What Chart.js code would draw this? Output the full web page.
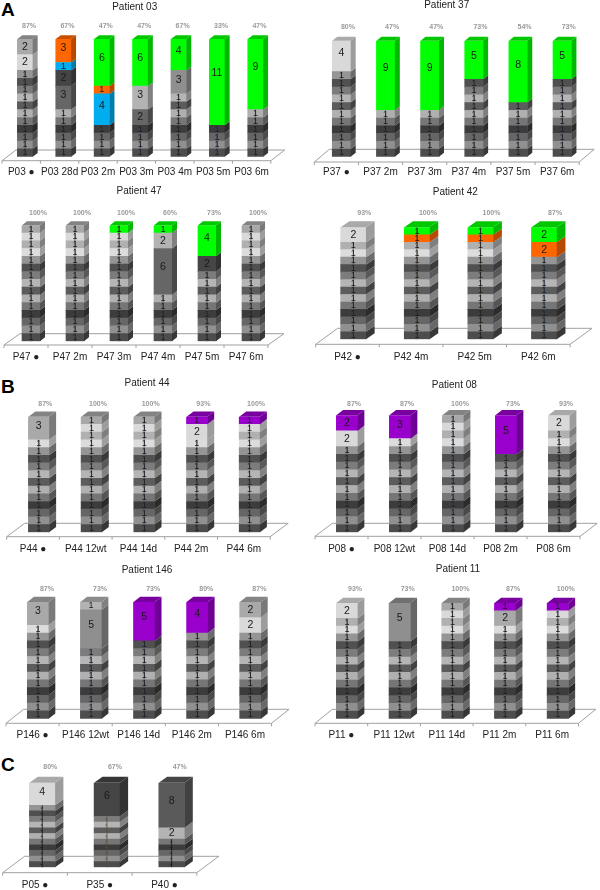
<!DOCTYPE html>
<html>
<head>
<meta charset="utf-8">
<title>Patient clones</title>
<script src="https://cdn.jsdelivr.net/npm/chart.js@4"></script>
<style>
body { margin: 0; background: #fff; width: 600px; height: 890px; position: relative; overflow: hidden; }
canvas { position: absolute; filter: blur(0.35px); }
.tag { position: absolute; font: bold 19px "Liberation Sans", Arial, sans-serif; color: #000; line-height: 19px; }
</style>
</head>
<body>
<div class="tag" style="left:1px;top:0px">A</div>
<div class="tag" style="left:1px;top:377px">B</div>
<div class="tag" style="left:1px;top:755px">C</div>
<script>
// values go bottom to top, clones name the last segments of each bar
var p03Labels = ['P03 ●', 'P03 28d', 'P03 2m', 'P03 3m', 'P03 4m', 'P03 5m', 'P03 6m'];
var p03Percent = ['87%', '67%', '47%', '47%', '67%', '33%', '47%'];
var p03Values = [
    [1,1,1,1,1,1,1,1,1,1,1,2,2],
    [1,1,1,1,1,1,3,2,1,3],
    [1,1,1,1,4,1,6],
    [1,1,1,1,2,3,6],
    [1,1,1,1,1,1,1,1,3,4],
    [1,1,1,1,11],
    [1,1,1,1,1,1,9]
];
var p03Clones = [['pale','silver'], ['slate','coal','blue','orange'], ['blue','orange','green'], ['slate','light','green'], ['mid','green'], ['green'], ['green']];

var p37Labels = ['P37 ●', 'P37 2m', 'P37 3m', 'P37 4m', 'P37 5m', 'P37 6m'];
var p37Percent = ['80%', '47%', '47%', '73%', '54%', '73%'];
var p37Values = [
    [1,1,1,1,1,1,1,1,1,1,1,4],
    [1,1,1,1,1,1,9],
    [1,1,1,1,1,1,9],
    [1,1,1,1,1,1,1,1,1,1,5],
    [1,1,1,1,1,1,1,8],
    [1,1,1,1,1,1,1,1,1,1,5]
];
var p37Clones = [['pale'], ['green'], ['green'], ['green'], ['green'], ['green']];

var p47Labels = ['P47 ●', 'P47 2m', 'P47 3m', 'P47 4m', 'P47 5m', 'P47 6m'];
var p47Percent = ['100%', '100%', '100%', '60%', '73%', '100%'];
var p47Values = [
    [1,1,1,1,1,1,1,1,1,1,1,1,1,1,1],
    [1,1,1,1,1,1,1,1,1,1,1,1,1,1,1],
    [1,1,1,1,1,1,1,1,1,1,1,1,1,1,1],
    [1,1,1,1,1,1,6,2,1],
    [1,1,1,1,1,1,1,1,1,2,4],
    [1,1,1,1,1,1,1,1,1,1,1,1,1,1,1]
];
var p47Clones = [[], [], ['green'], ['slate','light','green'], ['coal','green'], []];

var p42Labels = ['P42 ●', 'P42 4m', 'P42 5m', 'P42 6m'];
var p42Percent = ['93%', '100%', '100%', '87%'];
var p42Values = [
    [1,1,1,1,1,1,1,1,1,1,1,1,1,2],
    [1,1,1,1,1,1,1,1,1,1,1,1,1,1,1],
    [1,1,1,1,1,1,1,1,1,1,1,1,1,1,1],
    [1,1,1,1,1,1,1,1,1,1,1,2,2]
];
var p42Clones = [['pale'], ['orange','green'], ['orange','green'], ['orange','green']];

var p44Labels = ['P44 ●', 'P44 12wt', 'P44 14d', 'P44 2m', 'P44 6m'];
var p44Percent = ['87%', '100%', '100%', '93%', '100%'];
var p44Values = [
    [1,1,1,1,1,1,1,1,1,1,1,1,3],
    [1,1,1,1,1,1,1,1,1,1,1,1,1,1,1],
    [1,1,1,1,1,1,1,1,1,1,1,1,1,1,1],
    [1,1,1,1,1,1,1,1,1,1,1,1,2,1],
    [1,1,1,1,1,1,1,1,1,1,1,1,1,1,1]
];
var p44Clones = [['silver'], [], [], ['pale','purple'], ['purple']];

var p08Labels = ['P08 ●', 'P08 12wt', 'P08 14d', 'P08 2m', 'P08 6m'];
var p08Percent = ['87%', '87%', '100%', '73%', '93%'];
var p08Values = [
    [1,1,1,1,1,1,1,1,1,1,1,2,2],
    [1,1,1,1,1,1,1,1,1,1,1,1,3],
    [1,1,1,1,1,1,1,1,1,1,1,1,1,1,1],
    [1,1,1,1,1,1,1,1,1,1,5],
    [1,1,1,1,1,1,1,1,1,1,1,1,1,2]
];
var p08Clones = [['pale','purple'], ['purple'], [], ['purple'], ['pale']];

var p146Labels = ['P146 ●', 'P146 12wt', 'P146 14d', 'P146 2m', 'P146 6m'];
var p146Percent = ['87%', '73%', '73%', '80%', '87%'];
var p146Values = [
    [1,1,1,1,1,1,1,1,1,1,1,1,3],
    [1,1,1,1,1,1,1,1,1,5,1],
    [1,1,1,1,1,1,1,1,1,1,5],
    [1,1,1,1,1,1,1,1,1,1,1,4],
    [1,1,1,1,1,1,1,1,1,1,1,2,2]
];
var p146Clones = [['silver'], ['mid','light'], ['purple'], ['purple'], ['pale','silver']];

var p11Labels = ['P11 ●', 'P11 12wt', 'P11 14d', 'P11 2m', 'P11 6m'];
var p11Percent = ['93%', '73%', '100%', '87%', '100%'];
var p11Values = [
    [1,1,1,1,1,1,1,1,1,1,1,1,1,2],
    [1,1,1,1,1,1,1,1,1,1,5],
    [1,1,1,1,1,1,1,1,1,1,1,1,1,1,1],
    [1,1,1,1,1,1,1,1,1,1,1,1,2,1],
    [1,1,1,1,1,1,1,1,1,1,1,1,1,1,1]
];
var p11Clones = [['pale'], ['mid'], [], ['silver','purple'], ['purple']];

var cLabels = ['P05 ●', 'P35 ●', 'P40 ●'];
var cPercent = ['80%', '67%', '47%'];
var cValues = [
    [1,1,1,1,1,1,1,1,1,1,1,4],
    [1,1,1,1,1,1,1,1,1,6],
    [1,1,1,1,1,2,8]
];
var cClones = [['pale'], ['coal'], ['light','ash']];

// colours
var ladder = ['#4d4d4d','#909090','#666666','#3c3c3c','#767676','#b0b0b0','#5c5c5c','#b5b5b5','#7c7c7c','#505050','#959595','#dcdcdc','#b0b0b0','#d9d9d9','#a8a8a8'];
var cloneColors = {
    green: '#00ff00', orange: '#ff6600', blue: '#00aeef', purple: '#9900cc',
    pale: '#d9d9d9', silver: '#a9a9a9', light: '#b3b3b3', mid: '#8f8f8f',
    slate: '#666666', ash: '#5a5a5a', coal: '#454545'
};
var BROWN = '#5c4a3a', NAVY = '#3f5a78', BLACK = '#111111';

// page geometry of each panel
var frames = [
    { values: p03Values, clones: p03Clones, labels: p03Labels, percent: p03Percent, title: 'Patient 03', box: [0, 0, 300, 180],
      left: 5.8, step: 38.4, top: 39, bottom: 156.7, barW: 15.3, dx: 5, dy: 3.7, floorL: 2, floorY: 160.7, backY: 150, floorDx: 14, titleX: 134.7, titleY: 7.3, pctX: 4, pctY: 26, labelY: 172,
      stems: [BROWN, NAVY, NAVY, NAVY, BROWN, NAVY, NAVY] },
    { values: p37Values, clones: p37Clones, labels: p37Labels, percent: p37Percent, title: 'Patient 37', box: [300, 0, 300, 180],
      left: 319.4, step: 44.15, top: 40.7, bottom: 156.7, barW: 18.4, dx: 5, dy: 4, floorL: 314.3, floorY: 162, backY: 149.3, floorDx: 15, titleX: 446.7, titleY: 5, pctX: 6.5, pctY: 26.7, labelY: 172.7,
      stems: [NAVY, NAVY, NAVY, NAVY, NAVY, NAVY] },
    { values: p47Values, clones: p47Clones, labels: p47Labels, percent: p47Percent, title: 'Patient 47', box: [0, 180, 300, 190],
      left: 9, step: 44, top: 225.3, bottom: 341.3, barW: 18, dx: 5, dy: 4, floorL: 4, floorY: 345, backY: 333.7, floorDx: 16, titleX: 139, titleY: 191.7, pctX: 7, pctY: 213.3, labelY: 357.3,
      stems: [BROWN, BROWN, BROWN, BROWN, BROWN, BROWN] },
    { values: p42Values, clones: p42Clones, labels: p42Labels, percent: p42Percent, title: 'Patient 42', box: [300, 180, 300, 190],
      left: 321.5, step: 63.6, top: 227.3, bottom: 339.3, barW: 25.3, dx: 8.7, dy: 6, floorL: 315.7, floorY: 344.3, backY: 328.3, floorDx: 22, titleX: 455.3, titleY: 192.3, pctX: 11, pctY: 213, labelY: 357,
      stems: [BROWN, BROWN, BROWN, NAVY] },
    { values: p44Values, clones: p44Clones, labels: p44Labels, percent: p44Percent, title: 'Patient 44', box: [0, 370, 300, 190],
      left: 12.4, step: 52.7, top: 416.7, bottom: 532.3, barW: 20.7, dx: 7, dy: 5.3, floorL: 6.7, floorY: 536.7, backY: 523.3, floorDx: 18, titleX: 147, titleY: 383.7, pctX: 6.5, pctY: 403.7, labelY: 549,
      stems: [BROWN, NAVY, NAVY, BROWN, NAVY] },
    { values: p08Values, clones: p08Clones, labels: p08Labels, percent: p08Percent, title: 'Patient 08', box: [300, 370, 300, 190],
      left: 320.5, step: 53, top: 415.3, bottom: 532.3, barW: 21.3, dx: 6.7, dy: 5.3, floorL: 315, floorY: 536.3, backY: 523.3, floorDx: 17.3, titleX: 454.3, titleY: 385.3, pctX: 7, pctY: 403.7, labelY: 549,
      stems: [BROWN, BROWN, NAVY, NAVY, BROWN] },
    { values: p146Values, clones: p146Clones, labels: p146Labels, percent: p146Percent, title: 'Patient 146', box: [0, 550, 300, 195],
      left: 11.4, step: 53.1, top: 602, bottom: 718.7, barW: 21.3, dx: 6.7, dy: 5.3, floorL: 6, floorY: 723.3, backY: 709.3, floorDx: 17.6, titleX: 147, titleY: 570.7, pctX: 9, pctY: 589.3, labelY: 735.7,
      stems: [BROWN, NAVY, NAVY, BROWN, BROWN] },
    { values: p11Values, clones: p11Clones, labels: p11Labels, percent: p11Percent, title: 'Patient 11', box: [300, 550, 300, 195],
      left: 320.65, step: 52.7, top: 603, bottom: 718.7, barW: 21.3, dx: 6.7, dy: 5.3, floorL: 315, floorY: 723.3, backY: 709.3, floorDx: 17.3, titleX: 458, titleY: 569.3, pctX: 8, pctY: 589.3, labelY: 735.7,
      stems: [BROWN, NAVY, BROWN, BROWN, NAVY] },
    { values: cValues, clones: cClones, labels: cLabels, percent: cPercent, title: '', box: [0, 740, 300, 150], hideOnes: true,
      left: 9.9, step: 64.7, top: 782.7, bottom: 867.3, barW: 25.7, dx: 8.3, dy: 6, floorL: 2.7, floorY: 872.7, backY: 856.3, floorDx: 22, titleX: 0, titleY: 0, pctX: 8, pctY: 766.7, labelY: 885.7,
      stems: [BLACK, BROWN, BLACK] }
];

function darker(hex, k) {
    var n = parseInt(hex.slice(1), 16);
    var r = Math.round((n >> 16) * k), g = Math.round(((n >> 8) & 255) * k), b = Math.round((n & 255) * k);
    return 'rgb(' + r + ',' + g + ',' + b + ')';
}

function segmentColor(f, bar, seg) {
    var vals = f.values[bar], names = f.clones[bar];
    var fromEnd = vals.length - seg;
    if (fromEnd <= names.length) return cloneColors[names[names.length - fromEnd]];
    return ladder[seg];
}

function quad(ctx, pts, fill) {
    ctx.beginPath();
    ctx.moveTo(pts[0], pts[1]);
    for (var i = 2; i < pts.length; i += 2) ctx.lineTo(pts[i], pts[i + 1]);
    ctx.closePath();
    ctx.fillStyle = fill;
    ctx.fill();
}

var floorPlugin = {
    id: 'floor',
    beforeDatasetsDraw: function (chart) {
        var f = chart.options.plugins.floor.frame, ctx = chart.ctx;
        var ox = f.box[0], oy = f.box[1], n = f.labels.length;
        var x0 = f.floorL - ox, y0 = f.floorY - oy, y1 = f.backY - oy, w = n * f.step;
        ctx.save();
        ctx.strokeStyle = '#a0a0a0';
        ctx.lineWidth = 1;
        ctx.beginPath();
        ctx.moveTo(x0, y0);
        ctx.lineTo(x0 + f.floorDx, y1);
        ctx.lineTo(x0 + f.floorDx + w, y1);
        ctx.lineTo(x0 + w, y0);
        ctx.closePath();
        for (var i = 0; i <= n; i++) {
            ctx.moveTo(x0 + i * f.step, y0);
            ctx.lineTo(x0 + i * f.step, y0 + 3);
        }
        ctx.stroke();
        if (f.title) {
            ctx.fillStyle = '#222';
            ctx.font = '10px "Liberation Sans", Arial, sans-serif';
            ctx.textAlign = 'center';
            ctx.textBaseline = 'middle';
            ctx.fillText(f.title, f.titleX - ox, f.titleY - oy);
        }
        ctx.restore();
    }
};

var boxPlugin = {
    id: 'box3d',
    afterDatasetsDraw: function (chart) {
        var f = chart.options.plugins.floor.frame, ctx = chart.ctx;
        var oy = f.box[1];
        ctx.save();
        ctx.textAlign = 'center';
        ctx.textBaseline = 'middle';
        f.values.forEach(function (vals, b) {
            var cx, left, right, topY, runTop, runBase, inRun = true, marks = [];
            vals.forEach(function (v, s) {
                var el = chart.getDatasetMeta(s).data[b];
                cx = el.x; left = el.x - el.width / 2; right = el.x + el.width / 2;
                var col = segmentColor(f, b, s);
                quad(ctx, [right, el.base, right + f.dx, el.base - f.dy, right + f.dx, el.y - f.dy, right, el.y], darker(col, 0.72));
                topY = el.y;
                if (s === 0) runBase = el.base;
                if (inRun && v === 1) { runTop = el.y; marks.push((el.y + el.base) / 2); } else inRun = false;
            });
            quad(ctx, [left, topY, left + f.dx, topY - f.dy, right + f.dx, topY - f.dy, right, topY], darker(segmentColor(f, b, vals.length - 1), 0.78));
            // thin stem that runs through the one-unit segments
            ctx.strokeStyle = f.stems[b];
            ctx.lineWidth = 0.8;
            ctx.beginPath();
            ctx.moveTo(cx, runBase);
            ctx.lineTo(cx, runTop);
            if (f.hideOnes) {
                marks.forEach(function (y) {
                    ctx.moveTo(cx - 1.5, y);
                    ctx.lineTo(cx, y);
                });
            }
            ctx.stroke();
            vals.forEach(function (v, s) {
                if (f.hideOnes && v === 1) return;
                var el = chart.getDatasetMeta(s).data[b];
                ctx.fillStyle = '#1a1a1a';
                ctx.font = (v === 1 ? '9px' : '10.5px') + ' "Liberation Sans", Arial, sans-serif';
                ctx.fillText(String(v), cx, (el.y + el.base) / 2 - (v > 2 ? (el.base - el.y) * 0.1 : 0));
            });
            ctx.fillStyle = '#9a9a9a';
            ctx.font = 'bold 7px "Liberation Sans", Arial, sans-serif';
            ctx.fillText(f.percent[b], cx + f.pctX, f.pctY - oy);
        });
        ctx.restore();
    }
};

frames.forEach(function (f) {
    var cv = document.createElement('canvas');
    cv.width = f.box[2];
    cv.height = f.box[3];
    cv.style.left = f.box[0] + 'px';
    cv.style.top = f.box[1] + 'px';
    document.body.appendChild(cv);

    var most = Math.max.apply(null, f.values.map(function (v) { return v.length; }));
    var datasets = [];
    for (var s = 0; s < most; s++) {
        datasets.push({
            data: f.values.map(function (v) { return v[s] === undefined ? null : v[s]; }),
            backgroundColor: f.values.map(function (v, b) { return v[s] === undefined ? 'transparent' : segmentColor(f, b, s); }),
            barThickness: f.barW,
            borderWidth: 0
        });
    }
    var shift = f.left - f.floorL;
    new Chart(cv.getContext('2d'), {
        type: 'bar',
        data: { labels: f.labels, datasets: datasets },
        plugins: [floorPlugin, boxPlugin],
        options: {
            responsive: false,
            animation: false,
            layout: {
                autoPadding: false,
                padding: {
                    left: f.left - f.box[0],
                    right: f.box[0] + f.box[2] - (f.left + f.labels.length * f.step),
                    top: f.top - f.box[1],
                    bottom: 0
                }
            },
            plugins: { legend: { display: false }, tooltip: { enabled: false }, floor: { frame: f } },
            scales: {
                x: {
                    stacked: true,
                    border: { display: false },
                    grid: { display: false, drawTicks: false },
                    afterFit: function (scale) { scale.height = f.box[1] + f.box[3] - f.bottom; },
                    ticks: {
                        autoSkip: false,
                        maxRotation: 0,
                        labelOffset: -shift,
                        padding: f.labelY - f.bottom - 6,
                        color: '#222',
                        font: { family: '"Liberation Sans", Arial, sans-serif', size: 10 }
                    }
                },
                y: { stacked: true, display: false, min: 0, max: 15 }
            }
        }
    });
});
</script>
</body>
</html>
